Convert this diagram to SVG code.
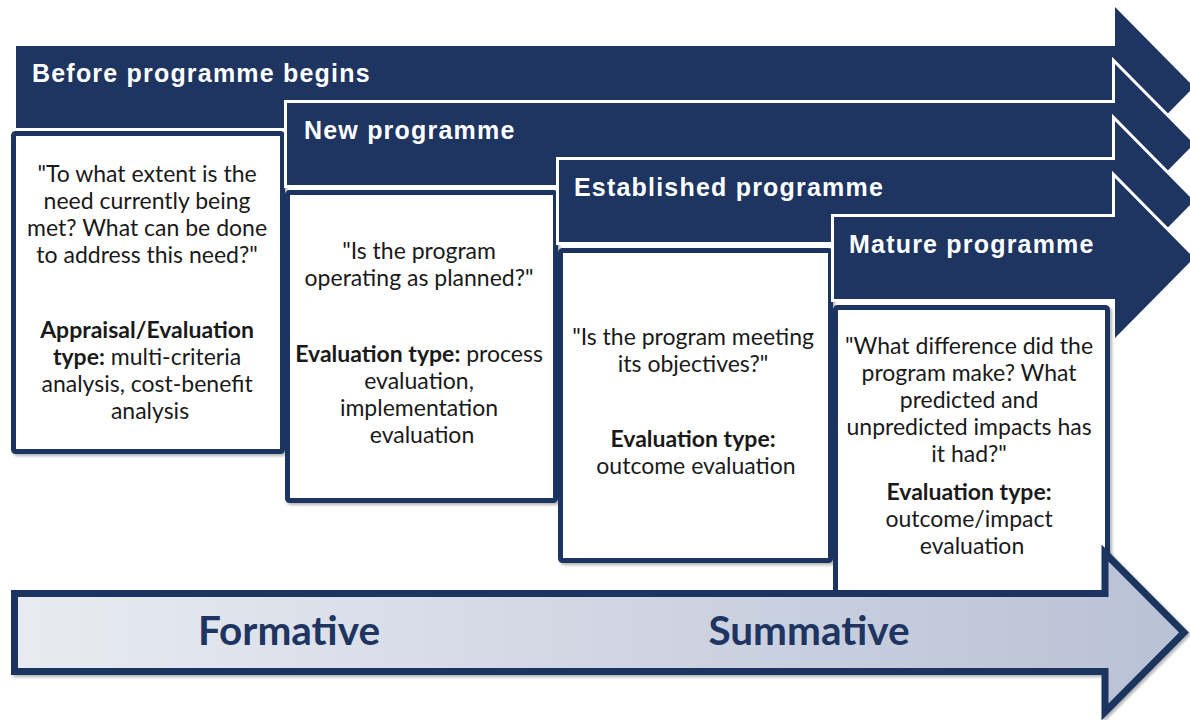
<svg xmlns="http://www.w3.org/2000/svg" width="1190" height="720" viewBox="0 0 1190 720">
  <defs>
    <linearGradient id="flow" x1="0" y1="0" x2="1" y2="0">
      <stop offset="0" stop-color="#e8ebf1"/>
      <stop offset="1" stop-color="#b9c1d5"/>
    </linearGradient>
    <filter id="shadow" x="-5%" y="-5%" width="112%" height="112%">
      <feDropShadow dx="2" dy="2" stdDeviation="1.5" flood-color="#000" flood-opacity="0.3"/>
    </filter>
    <style>
      .stage { fill: #1e3561; stroke: #ffffff; stroke-width: 6; paint-order: stroke; stroke-linejoin: miter; }
      .box { fill: #ffffff; stroke: #1e3561; stroke-width: 5; filter: url(#shadow); }
      .head { font-family: "Liberation Sans", Arial, sans-serif; font-weight: bold; font-size: 25px; letter-spacing: 1.2px; fill: #ffffff; }
      .body { font-family: Lato, "Open Sans", sans-serif; font-size: 23px; fill: #1a1a1a; text-anchor: middle; }
      .body .b { font-weight: bold; }
      .phase { font-family: Lato, "Open Sans", sans-serif; font-weight: bold; font-size: 40.5px; fill: #1e3561; text-anchor: middle; }
      .flow { fill: url(#flow); stroke: #1e3561; stroke-width: 7; stroke-linejoin: miter; filter: url(#shadow); }
    </style>
  </defs>
  <rect width="1190" height="720" fill="#ffffff"/>

  <!-- Stage 1: before programme begins -->
  <g id="stage-before">
    <path class="stage" d="M16 46 H1115 V7 L1194 87 L1115 167 V128 H16 Z"/>
    <text class="head" x="32" y="82">Before programme begins</text>
  </g>
  <g id="box-before">
    <rect class="box" x="13.5" y="133.5" width="269" height="318" rx="2"/>
    <text class="body">
      <tspan x="150" y="182">"To what extent is the</tspan>
      <tspan x="150" y="209">need currently being</tspan>
      <tspan x="150" y="236">met? What can be done</tspan>
      <tspan x="150" y="263">to address this need?"</tspan>
      <tspan x="150" y="338" class="b">Appraisal/Evaluation</tspan>
      <tspan x="150" y="365"><tspan class="b">type:</tspan> multi-criteria</tspan>
      <tspan x="150" y="392">analysis, cost-benefit</tspan>
      <tspan x="150" y="419">analysis</tspan>
    </text>
  </g>

  <!-- Stage 2: new programme -->
  <g id="stage-new">
    <path class="stage" d="M287 103 H1115 V64 L1194 144 L1115 224 V185 H287 Z"/>
    <text class="head" x="304" y="139">New programme</text>
  </g>
  <g id="box-new">
    <rect class="box" x="287.5" y="192.5" width="268" height="308" rx="2"/>
    <text class="body">
      <tspan x="422" y="259">"Is the program</tspan>
      <tspan x="422" y="286">operating as planned?"</tspan>
      <tspan x="422" y="362"><tspan class="b">Evaluation type:</tspan> process</tspan>
      <tspan x="422" y="389">evaluation,</tspan>
      <tspan x="422" y="416">implementation</tspan>
      <tspan x="422" y="443">evaluation</tspan>
    </text>
  </g>

  <!-- Stage 3: established programme -->
  <g id="stage-established">
    <path class="stage" d="M559 160 H1115 V121 L1194 201 L1115 281 V242 H559 Z"/>
    <text class="head" x="574" y="196">Established programme</text>
  </g>
  <g id="box-established">
    <rect class="box" x="560.5" y="250.5" width="270" height="310" rx="2"/>
    <text class="body">
      <tspan x="696" y="345">"Is the program meeting</tspan>
      <tspan x="696" y="372">its objectives?"</tspan>
      <tspan x="696" y="447" class="b">Evaluation type:</tspan>
      <tspan x="696" y="474">outcome evaluation</tspan>
    </text>
  </g>

  <!-- Stage 4: mature programme -->
  <g id="stage-mature">
    <path class="stage" d="M834 217 H1115 V178 L1194 258 L1115 338 V299 H834 Z"/>
    <text class="head" x="849" y="253">Mature programme</text>
  </g>
  <g id="box-mature">
    <rect class="box" x="835.5" y="307.5" width="272" height="285" rx="2"/>
    <text class="body">
      <tspan x="972" y="354">"What difference did the</tspan>
      <tspan x="972" y="381">program make? What</tspan>
      <tspan x="972" y="408">predicted and</tspan>
      <tspan x="972" y="435">unpredicted impacts has</tspan>
      <tspan x="972" y="462">it had?"</tspan>
      <tspan x="972" y="500" class="b">Evaluation type:</tspan>
      <tspan x="972" y="527">outcome/impact</tspan>
      <tspan x="972" y="554">evaluation</tspan>
    </text>
  </g>

  <!-- Formative to summative continuum -->
  <g id="continuum">
    <path class="flow" d="M14.5 593.5 H1105 V553 L1184 632.5 L1105 712 V671.5 H14.5 Z"/>
    <text class="phase" x="289" y="645">Formative</text>
    <text class="phase" x="809" y="645">Summative</text>
  </g>
</svg>
